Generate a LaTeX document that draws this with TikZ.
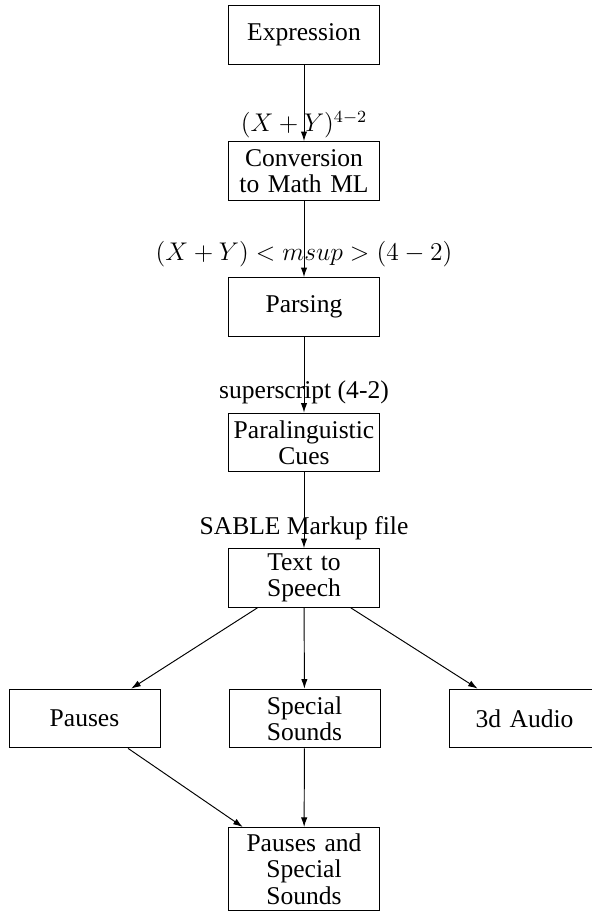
\documentclass[tikz,border=0pt]{standalone}
\usepackage{fontspec}
\setmainfont{Liberation Serif}
\usetikzlibrary{arrows.meta}
\begin{document}
\begin{tikzpicture}[x=0.4695pt,y=-0.4695pt,
  box/.style={draw, line width=0.45pt, text width=66pt, inner xsep=2.45pt, inner ysep=2.2pt,
    align=center, minimum height=27.6pt, font=\fontsize{12}{12.4}\selectfont},
  lbl/.style={anchor=base, inner sep=0pt, font=\fontsize{12}{14}\selectfont},
  conn/.style={-{Latex[length=4.5pt,width=3pt]}, line width=0.45pt}]
\useasboundingbox (0,0) rectangle (592,912);
\node[box] (expr) at (304,35) {Expression};
\node[box] (conv) at (304,171) {Conversion\\ to Math ML};
\node[box] (pars) at (304,307) {Parsing};
\node[box] (para) at (304,442.5) {Paralinguistic\\ Cues};
\node[box] (tts)  at (304,578) {Text to\\ Speech};
\node[box] (paus) at (84.5,718.5) {Pauses};
\node[box] (spec) at (304.5,718.5) {Special\\ Sounds};
\node[box] (aud)  at (524.5,718.5) {3d Audio};
\node[box, anchor=north, minimum height=39pt] (both) at (304,827) {Pauses and\\ Special\\ Sounds};
\node[lbl] (l1) at (304,132) {$(X+Y)^{4-2}$};
\node[lbl] (l2) at (304,260) {$(X+Y)<msup>(4-2)$};
\node[lbl] (l3) at (304,398) {superscript (4-2)};
\node[lbl] (l4) at (304,534) {SABLE Markup file};
\draw[conn] (expr) -- (conv);
\draw[conn] (conv) -- (pars);
\draw[conn] (pars) -- (para);
\draw[conn] (para) -- (tts);
\draw[conn] (tts) -- (paus);
\draw[conn] (tts) -- (spec);
\draw[conn] (tts) -- (aud);
\draw[conn] (paus) -- (both);
\draw[conn] (spec) -- (both);
\end{tikzpicture}
\end{document}
